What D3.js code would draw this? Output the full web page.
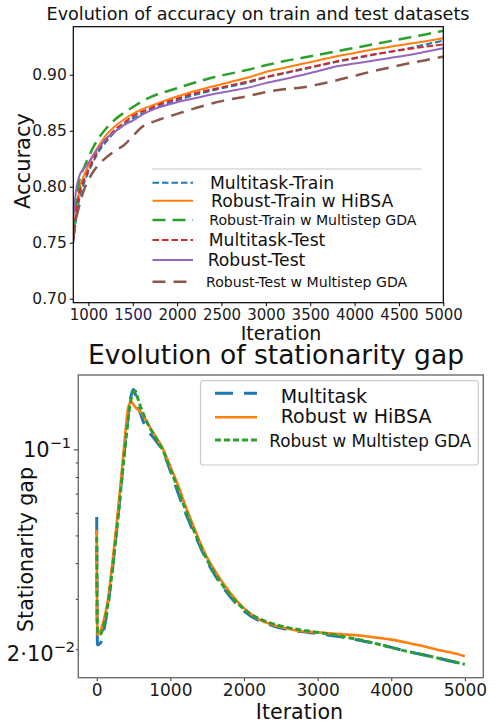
<!DOCTYPE html>
<html><head><meta charset="utf-8">
<script src="https://cdn.jsdelivr.net/npm/d3@7"></script>
<style>body{margin:0;background:#fff}svg{display:block}text{font-family:"DejaVu Sans",sans-serif}</style>
</head><body>
<script>
// ---------- Top chart data ----------
const accIter = [830, 860, 900, 950, 1000, 1060, 1130, 1200, 1300, 1400, 1500, 1600, 1700, 1800, 2000, 2200, 2400, 2600, 2800, 3000, 3200, 3400, 3600, 3800, 4000, 4200, 4400, 4600, 4800, 5000];
const multitaskTrain = [0.750, 0.770, 0.790, 0.803, 0.813, 0.823, 0.833, 0.840, 0.849, 0.855, 0.861, 0.865, 0.869, 0.872, 0.877, 0.882, 0.886, 0.8895, 0.893, 0.8975, 0.901, 0.9045, 0.908, 0.9115, 0.9145, 0.9175, 0.9205, 0.9235, 0.927, 0.9304];
const robustTrainHiBSA = [0.756, 0.778, 0.798, 0.810, 0.819, 0.829, 0.838, 0.846, 0.854, 0.860, 0.865, 0.869, 0.872, 0.875, 0.8805, 0.8855, 0.8895, 0.8935, 0.8975, 0.9025, 0.906, 0.9095, 0.913, 0.9165, 0.9195, 0.9225, 0.925, 0.9275, 0.930, 0.9325];
const robustTrainGDA = [0.760, 0.785, 0.806, 0.817, 0.826, 0.836, 0.845, 0.852, 0.860, 0.866, 0.871, 0.876, 0.880, 0.883, 0.888, 0.893, 0.8975, 0.901, 0.9045, 0.9085, 0.912, 0.915, 0.918, 0.921, 0.924, 0.927, 0.930, 0.933, 0.936, 0.9393];
const multitaskTest = [0.752, 0.774, 0.795, 0.806, 0.815, 0.825, 0.835, 0.842, 0.851, 0.857, 0.863, 0.867, 0.870, 0.8735, 0.8785, 0.8835, 0.887, 0.8905, 0.894, 0.898, 0.9015, 0.905, 0.9085, 0.912, 0.915, 0.918, 0.9205, 0.923, 0.925, 0.9271];
const robustTest = [0.772, 0.796, 0.810, 0.816, 0.821, 0.829, 0.836, 0.843, 0.849, 0.855, 0.859, 0.864, 0.868, 0.871, 0.8755, 0.879, 0.8825, 0.8855, 0.8885, 0.8925, 0.896, 0.8995, 0.9035, 0.9075, 0.910, 0.9125, 0.915, 0.9175, 0.9205, 0.9236];
const robustTestGDA = [0.754, 0.770, 0.784, 0.797, 0.806, 0.814, 0.821, 0.826, 0.832, 0.837, 0.845, 0.853, 0.857, 0.860, 0.865, 0.870, 0.8745, 0.878, 0.881, 0.8845, 0.887, 0.8885, 0.8915, 0.895, 0.899, 0.903, 0.9065, 0.910, 0.913, 0.9161];
const accXTicks = [1000, 1500, 2000, 2500, 3000, 3500, 4000, 4500, 5000];
const accYTicks = [0.70, 0.75, 0.80, 0.85, 0.90];
const accLegend = ["Multitask-Train", "Robust-Train w HiBSA", "Robust-Train w Multistep GDA", "Multitask-Test", "Robust-Test", "Robust-Test w Multistep GDA"];

// ---------- Bottom chart data ----------
const gapIter = [0, 10, 50, 100, 150, 200, 250, 300, 350, 400, 425, 450, 475, 500, 525, 550, 600, 650, 700, 800, 900, 1000, 1100, 1200, 1300, 1400, 1500, 1600, 1800, 2000, 2200, 2400, 2600, 2800, 3000, 3200, 3400, 3600, 3800, 4000, 4200, 4400, 4600, 4800, 5000];
const gapMultitask = [0.058, 0.0207, 0.0210, 0.0235, 0.0280, 0.0355, 0.0465, 0.062, 0.084, 0.113, 0.130, 0.146, 0.157, 0.162, 0.156, 0.146, 0.132, 0.122, 0.116, 0.1075, 0.0985, 0.084, 0.071, 0.0605, 0.0525, 0.046, 0.0405, 0.0365, 0.0308, 0.0272, 0.0252, 0.0241, 0.0234, 0.0230, 0.0227, 0.0223, 0.0219, 0.0214, 0.0209, 0.0203, 0.0197, 0.0192, 0.0187, 0.0182, 0.0177];
const gapHiBSA = [0.0523, 0.0225, 0.0232, 0.0255, 0.0295, 0.0375, 0.049, 0.065, 0.089, 0.122, 0.139, 0.145, 0.146, 0.1435, 0.1405, 0.1385, 0.135, 0.129, 0.122, 0.111, 0.1005, 0.087, 0.0755, 0.064, 0.055, 0.0475, 0.0418, 0.0378, 0.0318, 0.0278, 0.0255, 0.0243, 0.0236, 0.0231, 0.0229, 0.0227, 0.0225, 0.0223, 0.02195, 0.0216, 0.0211, 0.0206, 0.0200, 0.0195, 0.0189];
const gapGDA = [0.0495, 0.0228, 0.0226, 0.0245, 0.0285, 0.0355, 0.046, 0.061, 0.083, 0.110, 0.126, 0.142, 0.153, 0.159, 0.160, 0.153, 0.140, 0.130, 0.122, 0.110, 0.099, 0.0855, 0.073, 0.062, 0.0535, 0.0465, 0.041, 0.037, 0.0312, 0.0276, 0.0256, 0.0245, 0.0238, 0.0233, 0.0229, 0.0225, 0.0220, 0.0215, 0.0209, 0.0203, 0.0197, 0.0192, 0.0187, 0.0182, 0.0177];
const gapXTicks = [0, 1000, 2000, 3000, 4000, 5000];
const gapLegend = ["Multitask", "Robust w HiBSA", "Robust w Multistep GDA"];

const svg = d3.select("body").append("svg").attr("width", 500).attr("height", 723);
svg.append("rect").attr("width", 500).attr("height", 723).attr("fill", "#fff");

// ================= TOP =================
const T = {l: 73.3, r: 443.3, t: 26.7, b: 302.7};
const xA = d3.scaleLinear().domain([830, 5000]).range([T.l, T.r]);
const yA = d3.scaleLinear().domain([0.6964, 0.9429]).range([T.b, T.t]);

svg.append("clipPath").attr("id", "clipA").append("rect")
  .attr("x", T.l).attr("y", T.t).attr("width", T.r - T.l).attr("height", T.b - T.t);

const topSeries = [
  {vals: multitaskTrain, color: "#1f77b4", dash: "6.5,3", w: 2},
  {vals: robustTrainHiBSA, color: "#ff7f0e", dash: null, w: 2},
  {vals: robustTrainGDA, color: "#2ca02c", dash: "13,7", w: 2.5},
  {vals: multitaskTest, color: "#d62728", dash: "6.5,3", w: 2},
  {vals: robustTest, color: "#9467bd", dash: null, w: 2},
  {vals: robustTestGDA, color: "#8c564b", dash: "13,8", w: 2.5}
];
const lineA = d3.line().x((d, i) => xA(accIter[i])).y(d => yA(d)).curve(d3.curveMonotoneX);
const gA = svg.append("g").attr("clip-path", "url(#clipA)");
topSeries.forEach(s => {
  gA.append("path").attr("d", lineA(s.vals)).attr("fill", "none")
    .attr("stroke", s.color).attr("stroke-width", s.w)
    .attr("stroke-dasharray", s.dash);
});

// axes
const axA_x = svg.append("g").attr("transform", `translate(0,${T.b})`)
  .call(d3.axisBottom(xA).tickValues(accXTicks).tickSize(3.5).tickPadding(3.6).tickFormat(d3.format("d")));
const axA_y = svg.append("g").attr("transform", `translate(${T.l},0)`)
  .call(d3.axisLeft(yA).tickValues(accYTicks).tickSize(3.5).tickPadding(3).tickFormat(d3.format(".2f")));
[axA_x, axA_y].forEach(a => {
  a.select(".domain").remove();
  a.selectAll("line").attr("stroke", "#000").attr("stroke-width", 1);
  a.selectAll("text").attr("font-size", 15).attr("fill", "#1a1a1a").attr("font-family", "DejaVu Sans");
});
axA_y.selectAll("text").attr("font-size", 15.5);
axA_x.selectAll("text").filter(d => d === 1500).attr("fill", "#1c1c5c");
svg.append("rect").attr("x", T.l).attr("y", T.t).attr("width", T.r - T.l).attr("height", T.b - T.t)
  .attr("fill", "none").attr("stroke", "#000").attr("stroke-width", 1.2);

svg.append("text").attr("x", 258).attr("y", 19.5).attr("text-anchor", "middle")
  .attr("font-size", 17.6).attr("fill", "#111").text("Evolution of accuracy on train and test datasets");
svg.append("text").attr("x", 281).attr("y", 339.5).attr("text-anchor", "middle")
  .attr("font-size", 19).attr("fill", "#111").text("Iteration");
svg.append("text").attr("transform", "translate(29.5,161) rotate(-90)").attr("text-anchor", "middle")
  .attr("font-size", 21).attr("fill", "#111").text("Accuracy");

// top legend
svg.append("line").attr("x1", 152).attr("x2", 421.7).attr("y1", 169).attr("y2", 169)
  .attr("stroke", "#d9d9d9").attr("stroke-width", 1.6);
const legRowsA = [182.7, 200.7, 220, 240, 260, 281.7];
const legTextX = [210, 211, 209.3, 208.7, 207.7, 206];
const legFont = [17.2, 17.2, 14.1, 17.2, 17.2, 14.1];
topSeries.forEach((s, k) => {
  svg.append("line").attr("x1", 152.5).attr("x2", 193).attr("y1", legRowsA[k]).attr("y2", legRowsA[k])
    .attr("stroke", s.color).attr("stroke-width", s.w).attr("stroke-dasharray", s.dash);
  svg.append("text").attr("x", legTextX[k]).attr("y", legRowsA[k] + legFont[k] * 0.36)
    .attr("font-size", legFont[k]).attr("fill", "#111").text(accLegend[k]);
});

// ================= BOTTOM =================
const B = {l: 78.3, r: 483.3, t: 375, b: 677.7};
const xB = d3.scaleLinear().domain([-250, 5250]).range([B.l, B.r]);
const yB = d3.scaleLog().domain([0.0159, 0.182]).range([B.b, B.t]);

svg.append("clipPath").attr("id", "clipB").append("rect")
  .attr("x", B.l).attr("y", B.t).attr("width", B.r - B.l).attr("height", B.b - B.t);

const botSeries = [
  {vals: gapMultitask, color: "#1f77b4", dash: "18,11", w: 3},
  {vals: gapHiBSA, color: "#ff7f0e", dash: null, w: 2.6},
  {vals: gapGDA, color: "#2ca02c", dash: "6,3", w: 3}
];
const lineB = d3.line().x((d, i) => xB(gapIter[i])).y(d => yB(d)).curve(d3.curveMonotoneX);
const gB = svg.append("g").attr("clip-path", "url(#clipB)");
botSeries.forEach(s => {
  gB.append("path").attr("d", lineB(s.vals)).attr("fill", "none")
    .attr("stroke", s.color).attr("stroke-width", s.w).attr("stroke-dasharray", s.dash);
});

const axB_x = svg.append("g").attr("transform", `translate(0,${B.b})`)
  .call(d3.axisBottom(xB).tickValues(gapXTicks).tickSize(3.5).tickPadding(3).tickFormat(d3.format("d")));
axB_x.select(".domain").remove();
axB_x.selectAll("line").attr("stroke", "#333");
axB_x.selectAll("text").attr("font-size", 17).attr("fill", "#1a1a1a").attr("font-family", "DejaVu Sans");

// log y ticks: major 0.1, minor 0.03..0.09 and labelled 0.02
const minorTicks = [0.02, 0.03, 0.04, 0.05, 0.06, 0.07, 0.08, 0.09];
const axB_y = svg.append("g").attr("transform", `translate(${B.l},0)`)
  .call(d3.axisLeft(yB).tickValues(minorTicks).tickSize(2.5).tickFormat(""));
axB_y.select(".domain").remove();
axB_y.selectAll("line").attr("stroke", "#333");
const axB_y2 = svg.append("g").attr("transform", `translate(${B.l},0)`)
  .call(d3.axisLeft(yB).tickValues([0.1]).tickSize(4.5).tickFormat(""));
axB_y2.select(".domain").remove();
axB_y2.selectAll("line").attr("stroke", "#333");

const l1 = svg.append("text").attr("x", 71).attr("y", yB(0.1) + 8).attr("text-anchor", "end").attr("fill", "#111");
l1.append("tspan").attr("font-size", 21).text("10");
l1.append("tspan").attr("font-size", 14.5).attr("dy", -9).text("\u22121");
const l2 = svg.append("text").attr("x", 75).attr("y", yB(0.02) + 12).attr("text-anchor", "end").attr("fill", "#111");
l2.append("tspan").attr("font-size", 21).text("2\u00b710");
l2.append("tspan").attr("font-size", 14.5).attr("dy", -9).text("\u22122");

svg.append("rect").attr("x", B.l).attr("y", B.t).attr("width", B.r - B.l).attr("height", B.b - B.t)
  .attr("fill", "none").attr("stroke", "#6e6e6e").attr("stroke-width", 1.4);

svg.append("text").attr("x", 276).attr("y", 364).attr("text-anchor", "middle")
  .attr("font-size", 26.5).attr("fill", "#111").text("Evolution of stationarity gap");
svg.append("text").attr("x", 299.5).attr("y", 719).attr("text-anchor", "middle")
  .attr("font-size", 20.6).attr("fill", "#111").text("Iteration");
svg.append("text").attr("transform", "translate(33,549.5) rotate(-90)").attr("text-anchor", "middle")
  .attr("font-size", 20.5).attr("fill", "#111").text("Stationarity gap");

// bottom legend
svg.append("rect").attr("x", 200.5).attr("y", 380.7).attr("width", 277.8).attr("height", 84.3)
  .attr("rx", 3).attr("fill", "#fff").attr("fill-opacity", 0.8).attr("stroke", "#cccccc").attr("stroke-width", 1.2);
const legRowsB = [393.3, 417.3, 440];
const legTextXB = [280.7, 280.7, 269.3];
const legBase = [403.3, 422.7, 447.3];
const legFontB = [19, 19, 16.8];
botSeries.forEach((s, k) => {
  svg.append("line").attr("x1", 215).attr("x2", 257).attr("y1", legRowsB[k]).attr("y2", legRowsB[k])
    .attr("stroke", s.color).attr("stroke-width", s.w).attr("stroke-dasharray", s.dash);
  svg.append("text").attr("x", legTextXB[k]).attr("y", legBase[k])
    .attr("font-size", legFontB[k]).attr("fill", "#111").text(gapLegend[k]);
});
</script>
</body></html>
